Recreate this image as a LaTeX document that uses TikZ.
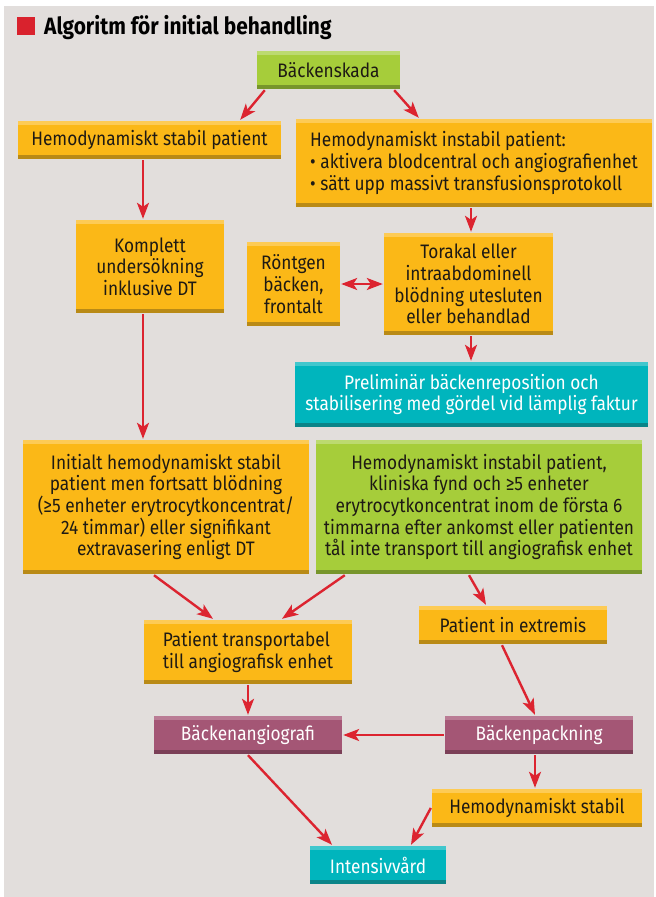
\documentclass[tikz,border=0pt]{standalone}
\usepackage{fontspec}
\setmainfont{Fira Sans}[FakeStretch=0.885]
\usetikzlibrary{arrows.meta,positioning}

\definecolor{bg}{HTML}{E2DEDC}
\definecolor{arrowred}{HTML}{DC2430}
\definecolor{titlered}{HTML}{D9222D}
\definecolor{darktext}{HTML}{1E1A14}
\definecolor{orngfill}{HTML}{FBB817}
\definecolor{orngtop}{HTML}{FDCB55}
\definecolor{orngbot}{HTML}{B98A16}
\definecolor{grnfill}{HTML}{A6CD3A}
\definecolor{grntop}{HTML}{BCDA6F}
\definecolor{grnbot}{HTML}{77952B}
\definecolor{tealfill}{HTML}{00B5BD}
\definecolor{tealtop}{HTML}{40C7CD}
\definecolor{tealbot}{HTML}{0A8488}
\definecolor{plumfill}{HTML}{A45675}
\definecolor{plumtop}{HTML}{BA7C95}
\definecolor{plumbot}{HTML}{7B3F57}

\tikzset{strips/.style={fill=#1fill,path picture={
  \fill[#1top] (path picture bounding box.north west) rectangle ([yshift=-3.5pt]path picture bounding box.north east);
  \fill[#1bot] (path picture bounding box.south west) rectangle ([yshift=4pt]path picture bounding box.south east);}}}

\begin{document}
\begin{tikzpicture}[x=1pt,y=-1pt,->,>={Stealth[length=16pt,width=12pt,inset=4pt]},line width=2.4pt]
\tikzstyle{flowbox}=[rectangle,inner sep=0pt,align=center,text=darktext,font=\fontsize{19.5}{21.7}\selectfont]
\tikzstyle{orngbox}=[flowbox,strips=orng]
\tikzstyle{grnbox}=[flowbox,strips=grn]
\tikzstyle{tealbox}=[flowbox,strips=teal,text=white]
\tikzstyle{plumbox}=[flowbox,strips=plum,text=white]

\useasboundingbox (0,0) rectangle (656,897);
\fill[bg] (3.5,6) rectangle (653.5,897);

\node[fill=titlered,minimum size=18pt,inner sep=0pt] (Mark) at (26,26) {};
\node[anchor=base west,inner sep=0pt,font=\fontsize{23.6}{24}\selectfont\bfseries] (Title) at (43,34.3) {Algoritm för initial behandling};

\node[grnbox,minimum width=143pt,minimum height=38pt]   (Skada)    at (328.5,70)  {Bäckenskada};
\node[orngbox,minimum width=263pt,minimum height=38pt]  (Stabil)   at (149.5,140) {Hemodynamiskt stabil patient};
\node[orngbox,minimum width=356pt,minimum height=88pt,align=left] (Instabil) at (474,163)
  {Hemodynamiskt instabil patient:\\ • aktivera blodcentral och angiografienhet\\ • sätt upp massivt transfusionsprotokoll};
\node[orngbox,minimum width=148pt,minimum height=93pt]  (Komplett) at (150,266.5) {Komplett\\undersökning\\inklusive DT};
\node[orngbox,minimum width=93pt,minimum height=84pt]   (Rontgen)  at (293.5,284) {Röntgen\\bäcken,\\frontalt};
\node[orngbox,minimum width=169pt,minimum height=102pt] (Torakal)  at (468.5,284) {Torakal eller\\intraabdominell\\blödning utesluten\\eller behandlad};
\node[tealbox,minimum width=353pt,minimum height=65pt]  (Prelim)   at (471.5,394.5) {Preliminär bäckenreposition och\\stabilisering med gördel vid lämplig faktur};
\node[orngbox,minimum width=286pt,minimum height=134pt] (Initialt) at (166,507)
  {Initialt hemodynamiskt stabil\\patient men fortsatt blödning\\(≥5 enheter erytrocytkoncentrat/\\24 timmar) eller signifikant\\extravasering enligt DT};
\node[grnbox,minimum width=326pt,minimum height=134pt]  (Kliniska) at (479,507)
  {Hemodynamiskt instabil patient,\\kliniska fynd och ≥5 enheter\\erytrocytkoncentrat inom de första 6\\timmarna efter ankomst eller patienten\\tål inte transport till angiografisk enhet};
\node[orngbox,minimum width=208pt,minimum height=64pt,align=left] (Transp) at (248,652) {Patient transportabel\\till angiografisk enhet};
\node[orngbox,minimum width=188pt,minimum height=38pt]  (Extremis) at (513,625)   {Patient in extremis};
\node[plumbox,minimum width=188pt,minimum height=38pt]  (Angio)    at (248,735)   {Bäckenangiografi};
\node[plumbox,minimum width=188pt,minimum height=38pt]  (Packning) [right of=Angio,node distance=291pt] {Bäckenpackning};
\node[orngbox,minimum width=210pt,minimum height=38pt]  (Hstabil)  at (537,808)   {Hemodynamiskt stabil};
\node[tealbox,minimum width=136pt,minimum height=38pt]  (Intensiv) at (378,865)   {Intensivvård};

\path[color=arrowred]
([xshift=9pt]Skada.south west) edge ([xshift=-42pt]Stabil.north east)
([xshift=-7pt]Skada.south east) edge ([xshift=124pt]Instabil.north west)
([xshift=-6.5pt]Stabil.south) edge ([xshift=-7pt]Komplett.north)
([xshift=-3pt]Instabil.south) edge ([xshift=2.5pt]Torakal.north)
(Rontgen.east) edge[<->] (Torakal.west)
([xshift=2.5pt]Torakal.south) edge ([xshift=-0.5pt]Prelim.north)
([xshift=-7pt]Komplett.south) edge ([xshift=-23pt]Initialt.north)
([xshift=-12pt]Initialt.south) edge ([xshift=-35pt]Transp.north)
([xshift=30pt]Kliniska.south west) edge ([xshift=34pt]Transp.north)
([xshift=-10pt]Kliniska.south) edge ([xshift=-27pt]Extremis.north)
([xshift=-11pt]Extremis.south) edge ([xshift=-4pt]Packning.north)
(Transp.south) edge (Angio.north)
(Packning.west) edge (Angio.east)
([xshift=-4pt]Packning.south) edge ([xshift=-2pt]Hstabil.north)
(Angio.south) edge ([xshift=-46pt]Intensiv.north)
(Hstabil.west) edge ([xshift=33pt]Intensiv.north)
;
\end{tikzpicture}
\end{document}
